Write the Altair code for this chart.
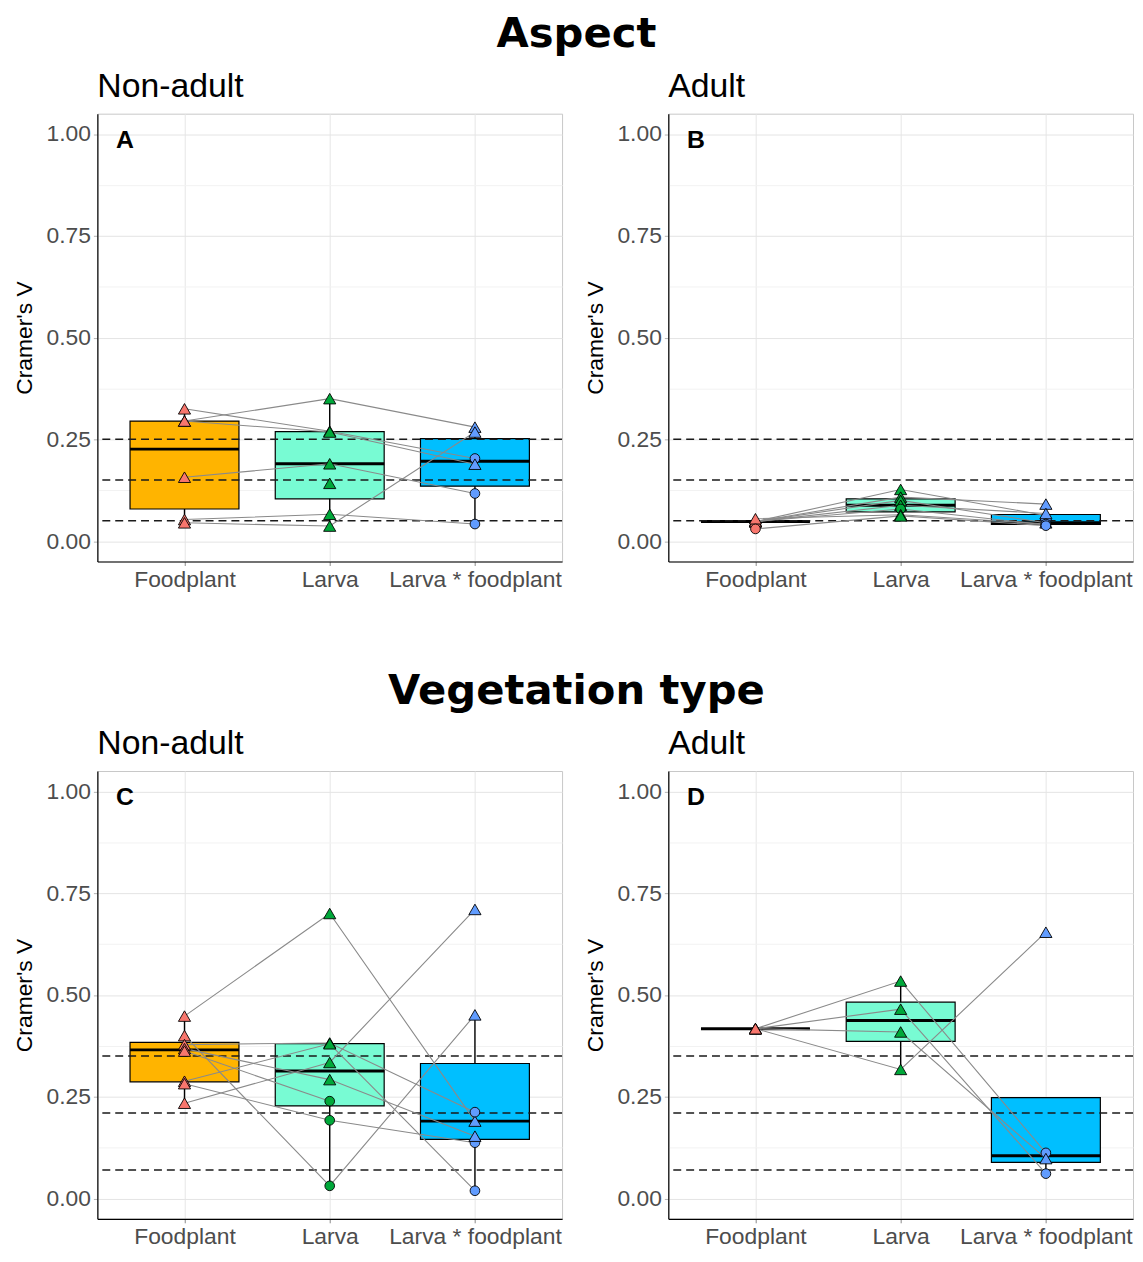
import altair as alt
import pandas as pd

CATS = ["Foodplant", "Larva", "Larva * foodplant"]

# ---- Panel A: Aspect, Non-adult (one entry per species; None = missing) ----
A_food = [0.325, 0.295, 0.295, 0.157, 0.053, 0.045, None]
A_larva = [0.270, 0.350, 0.268, 0.190, 0.066, 0.037, 0.142]
A_lf = [0.203, 0.280, 0.189, 0.117, 0.042, 0.268, None]
A_food_grp = ["T", "T", "T", "T", "T", "T", None]
A_larva_grp = ["T", "T", "T", "T", "T", "T", "T"]
A_lf_grp = ["C", "T", "T", "C", "C", "T", None]

# ---- Panel B: Aspect, Adult ----
B_food = [0.048, 0.048, 0.048, 0.048, 0.048, 0.055, 0.030]
B_larva = [0.127, 0.108, 0.100, 0.088, 0.079, 0.065, 0.062]
B_lf = [0.063, 0.091, 0.045, 0.068, 0.040, 0.042, 0.038]
B_food_grp = ["T", "T", "T", "T", "T", "T", "C"]
B_larva_grp = ["T", "T", "T", "T", "C", "T", "T"]
B_lf_grp = ["T", "T", "T", "T", "C", "C", "C"]

# ---- Panel C: Vegetation type, Non-adult ----
C_food = [0.448, 0.400, 0.378, 0.288, 0.234, 0.282, 0.368, 0.362]
C_larva = [0.700, 0.031, 0.382, 0.380, 0.334, 0.192, 0.292, 0.239]
C_lf = [0.190, 0.451, 0.212, 0.019, 0.710, 0.137, 0.153, None]
C_food_grp = ["T", "T", "T", "T", "T", "T", "T", "T"]
C_larva_grp = ["T", "C", "T", "T", "T", "C", "T", "C"]
C_lf_grp = ["T", "T", "C", "C", "T", "C", "T", None]

# ---- Panel D: Vegetation type, Adult ----
D_food = [0.417, 0.417, 0.417, 0.417]
D_larva = [0.534, 0.465, 0.409, 0.317]
D_lf = [0.112, 0.061, 0.098, 0.654]
D_food_grp = ["T", "T", "T", "T"]
D_larva_grp = ["T", "T", "T", "T"]
D_lf_grp = ["C", "C", "T", "T"]

# reference thresholds (dashed lines)
ASPECT_THRESH = [0.05, 0.15, 0.25]
VEG_THRESH = [0.07, 0.21, 0.35]

Y_TICKS = [0, 0.125, 0.25, 0.375, 0.5, 0.625, 0.75, 0.875, 1.0]
BOX_FILL = ["#FFB400", "#78FBD3", "#00BFFF"]
POINT_FILL = ["#F8766D", "#00A83A", "#619CFF"]

W, H = 468, 451


def make_df(food, larva, lf, fg, lg, xg):
    rows = []
    for i in range(len(food)):
        for ci, (vals, gs) in enumerate([(food, fg), (larva, lg), (lf, xg)], start=1):
            v = vals[i]
            if v is None:
                continue
            rows.append({"id": i, "ci": ci, "cat": CATS[ci - 1], "value": v, "grp": gs[i]})
    return pd.DataFrame(rows)


label_expr = (
    f"datum.value == 1 ? '{CATS[0]}' : datum.value == 2 ? '{CATS[1]}' : '{CATS[2]}'"
)


def xenc(field):
    return alt.X(
        f"{field}:Q",
        scale=alt.Scale(domain=[0.4, 3.6], nice=False, zero=False),
        axis=alt.Axis(
            values=[1, 2, 3],
            title=None,
            labelExpr=label_expr,
            labelFlush=False,
            labelOverlap=False,
            labelBound=False,
            gridColor="#E6E6E6",
            labelPadding=3,
        ),
    )


def yenc(field):
    return alt.Y(
        f"{field}:Q",
        scale=alt.Scale(domain=[-0.05, 1.05], nice=False, zero=False),
        axis=alt.Axis(
            values=Y_TICKS,
            title="Cramer's V",
            labelExpr="datum.value % 0.25 === 0 ? format(datum.value, '.2f') : ''",
            gridColor={"condition": {"test": "datum.value % 0.25 === 0", "value": "#E4E4E4"}, "value": "#F2F2F2"},
            tickColor={"condition": {"test": "datum.value % 0.25 === 0", "value": "#B3B3B3"}, "value": "transparent"},
            labelPadding=3,
            titlePadding=10,
            labelFlush=False,
            labelOverlap=False,
        ),
    )


def panel(df, thresh, letter, title):
    base = alt.Chart(df)
    stats = (
        base.transform_joinaggregate(
            q1="q1(value)", q3="q3(value)", med="median(value)", groupby=["ci"]
        )
        .transform_calculate(
            lof="datum.q1 - 1.5 * (datum.q3 - datum.q1)",
            hif="datum.q3 + 1.5 * (datum.q3 - datum.q1)",
        )
        .transform_filter("datum.value >= datum.lof - 1e-9 && datum.value <= datum.hif + 1e-9")
        .transform_aggregate(
            lo="min(value)", hi="max(value)", bq1="min(q1)", bq3="min(q3)", bmed="min(med)",
            groupby=["ci", "cat"],
        )
        .transform_calculate(xl="datum.ci - 0.375", xr="datum.ci + 0.375")
    )
    whisk = stats.mark_rule(color="black", strokeWidth=1.4).encode(
        x=xenc("ci"), y=yenc("lo"), y2="hi:Q"
    )
    box = stats.mark_bar(stroke="black", strokeWidth=1.2).encode(
        x=xenc("xl"), x2="xr:Q", y=yenc("bq1"), y2="bq3:Q",
        fill=alt.Fill("cat:N", scale=alt.Scale(domain=CATS, range=BOX_FILL), legend=None),
    )
    med = stats.mark_rule(color="black", strokeWidth=3).encode(
        x=xenc("xl"), x2="xr:Q", y=yenc("bmed")
    )
    hl = alt.Chart(pd.DataFrame({"t": thresh})).mark_rule(
        color="#1A1A1A", strokeDash=[8, 5], strokeWidth=1.5
    ).encode(y=yenc("t"))
    lines = base.mark_line(color="#8A8A8A", strokeWidth=1.1).encode(
        x=xenc("ci"), y=yenc("value"), detail="id:N"
    )
    pts = base.mark_point(filled=True, stroke="black", strokeWidth=0.9, opacity=1).encode(
        x=xenc("ci"),
        y=yenc("value"),
        color=alt.Color("cat:N", scale=alt.Scale(domain=CATS, range=POINT_FILL), legend=None),
        shape=alt.Shape("grp:N", scale=alt.Scale(domain=["T", "C"], range=["triangle-up", "circle"]), legend=None),
        size=alt.Size("grp:N", scale=alt.Scale(domain=["T", "C"], range=[150, 95]), legend=None),
    )
    lab = alt.Chart(pd.DataFrame({"lx": [0.59], "ly": [0.985], "t": [letter]})).mark_text(
        font="Liberation Sans", fontWeight="bold", fontSize=25, color="black",
        align="center", baseline="middle",
    ).encode(x=xenc("lx"), y=yenc("ly"), text="t:N")
    return alt.layer(whisk, box, med, hl, lines, pts, lab).properties(
        width=W,
        height=H,
        title=alt.TitleParams(
            title, anchor="start", frame="group", font="Liberation Sans",
            fontSize=34, fontWeight="normal", color="black", offset=10,
        ),
    )


pA = panel(make_df(A_food, A_larva, A_lf, A_food_grp, A_larva_grp, A_lf_grp), ASPECT_THRESH, "A", "Non-adult")
pB = panel(make_df(B_food, B_larva, B_lf, B_food_grp, B_larva_grp, B_lf_grp), ASPECT_THRESH, "B", "Adult")
pC = panel(make_df(C_food, C_larva, C_lf, C_food_grp, C_larva_grp, C_lf_grp), VEG_THRESH, "C", "Non-adult")
pD = panel(make_df(D_food, D_larva, D_lf, D_food_grp, D_larva_grp, D_lf_grp), VEG_THRESH, "D", "Adult")


def big_title(t):
    return alt.TitleParams(
        t, anchor="middle", font="DejaVu Sans", fontSize=42, fontWeight="bold",
        color="black", offset=14, dx=3,
    )


row1 = alt.hconcat(pA, pB, spacing=19).properties(title=big_title("Aspect"))
row2 = alt.hconcat(pC, pD, spacing=19).properties(title=big_title("Vegetation type"))

chart = (
    alt.vconcat(row1, row2, spacing=78)
    .properties(padding={"left": 4, "top": 0, "right": 0, "bottom": 0})
    .configure_view(stroke="#C8C8C8", strokeWidth=1)
    .configure_axis(
        domainColor="black",
        domainWidth=1.2,
        labelFont="Liberation Sans",
        labelFontSize=23,
        labelColor="#4D4D4D",
        titleFont="Liberation Sans",
        titleFontSize=23,
        titleFontWeight="normal",
        titleColor="black",
        tickSize=4,
        gridWidth=1,
    )
)

chart.save("out.html", embed_options={"renderer": "svg", "actions": False})
